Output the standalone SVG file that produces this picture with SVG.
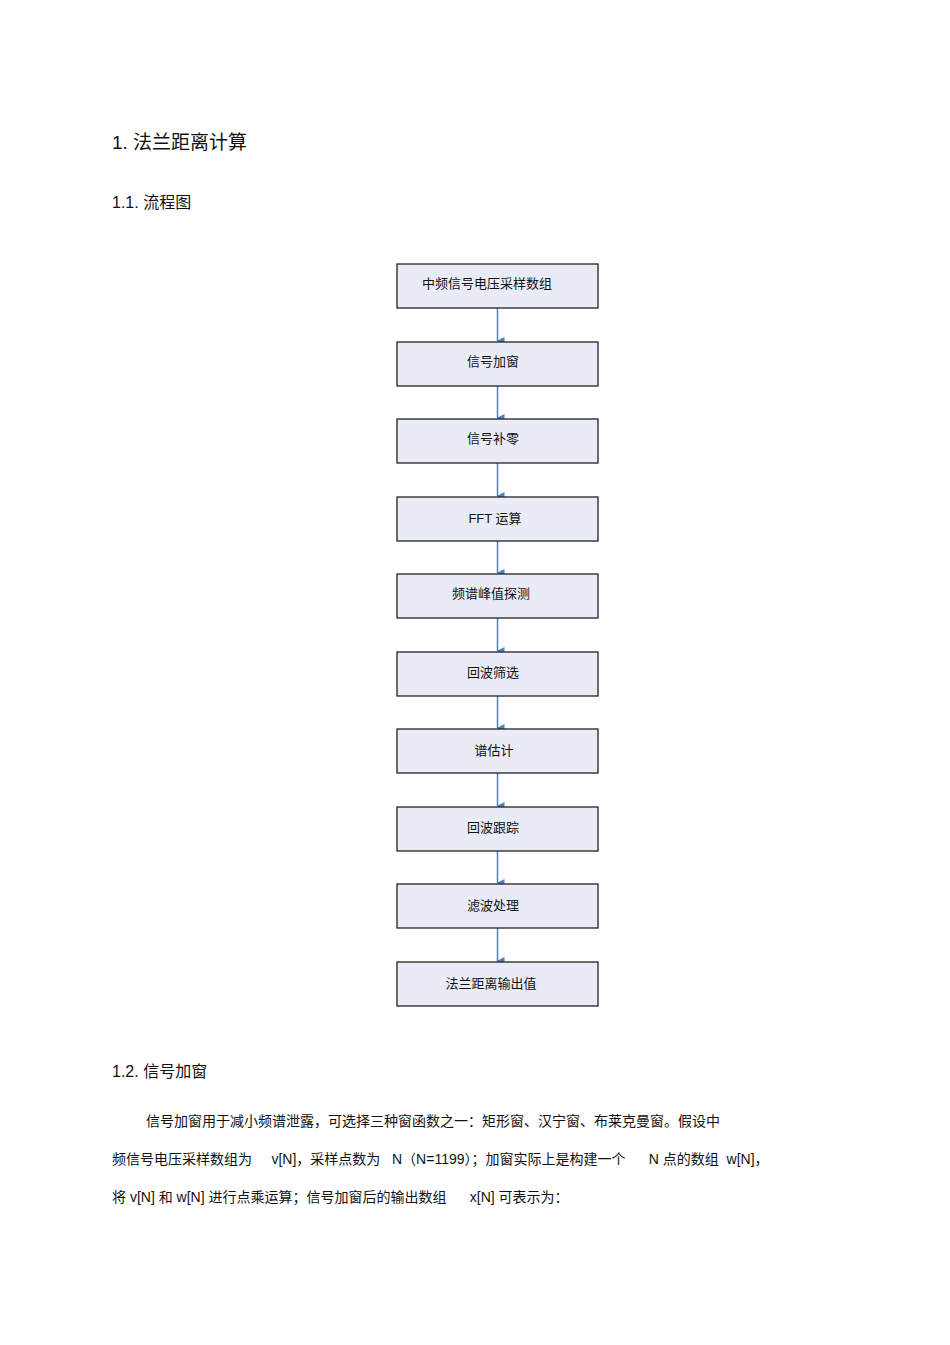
<svg xmlns="http://www.w3.org/2000/svg" width="950" height="1345" viewBox="0 0 950 1345">
<style>
.b{fill:#E9ECF7;stroke:#222;stroke-width:1.3}
.t{font-family:"Liberation Sans","Noto Sans CJK SC",sans-serif;font-size:13px;fill:#111;text-anchor:middle}
.p{font-family:"Liberation Sans","Noto Sans CJK SC",sans-serif;font-size:14px;fill:#111}
.h{font-family:"Liberation Sans","Noto Sans CJK SC",sans-serif;fill:#111}
.c{stroke:#4F81BD;stroke-width:1.5;fill:none}
</style>
<defs><marker id="a" markerWidth="8" markerHeight="8" refX="4" refY="7" orient="auto" markerUnits="userSpaceOnUse" viewBox="0 0 8 8"><path d="M0,0 L8,0 L4,8 z" fill="#4F81BD"/></marker></defs>
<rect width="950" height="1345" fill="#fff"/>
<text class="h" x="112" y="149" font-size="19">1.  法兰距离计算</text>
<text class="h" x="112" y="208" font-size="16">1.1.  流程图</text>
<g id="connectors">
<line class="c" x1="497.5" y1="308" x2="497.5" y2="341" marker-end="url(#a)"/>
<line class="c" x1="497.5" y1="386" x2="497.5" y2="418" marker-end="url(#a)"/>
<line class="c" x1="497.5" y1="463" x2="497.5" y2="496" marker-end="url(#a)"/>
<line class="c" x1="497.5" y1="541" x2="497.5" y2="573" marker-end="url(#a)"/>
<line class="c" x1="497.5" y1="618" x2="497.5" y2="651" marker-end="url(#a)"/>
<line class="c" x1="497.5" y1="696" x2="497.5" y2="728" marker-end="url(#a)"/>
<line class="c" x1="497.5" y1="773" x2="497.5" y2="806" marker-end="url(#a)"/>
<line class="c" x1="497.5" y1="851" x2="497.5" y2="883" marker-end="url(#a)"/>
<line class="c" x1="497.5" y1="928" x2="497.5" y2="961" marker-end="url(#a)"/>
</g>
<g id="n1"><rect class="b" x="397" y="264" width="201" height="44"/><text class="t" x="487" y="288">中频信号电压采样数组</text></g>
<g id="n2"><rect class="b" x="397" y="342" width="201" height="44"/><text class="t" x="493" y="366">信号加窗</text></g>
<g id="n3"><rect class="b" x="397" y="419" width="201" height="44"/><text class="t" x="493" y="443">信号补零</text></g>
<g id="n4"><rect class="b" x="397" y="497" width="201" height="44"/><text class="t" x="495" y="523">FFT 运算</text></g>
<g id="n5"><rect class="b" x="397" y="574" width="201" height="44"/><text class="t" x="491" y="598">频谱峰值探测</text></g>
<g id="n6"><rect class="b" x="397" y="652" width="201" height="44"/><text class="t" x="493" y="677">回波筛选</text></g>
<g id="n7"><rect class="b" x="397" y="729" width="201" height="44"/><text class="t" x="494" y="755">谱估计</text></g>
<g id="n8"><rect class="b" x="397" y="807" width="201" height="44"/><text class="t" x="493" y="832">回波跟踪</text></g>
<g id="n9"><rect class="b" x="397" y="884" width="201" height="44"/><text class="t" x="493" y="910">滤波处理</text></g>
<g id="n10"><rect class="b" x="397" y="962" width="201" height="44"/><text class="t" x="491" y="988">法兰距离输出值</text></g>
<text class="h" x="112" y="1077" font-size="16">1.2.  信号加窗</text>
<text class="p" x="146" y="1126">信号加窗用于减小频谱泄露，可选择三种窗函数之一：矩形窗、汉宁窗、布莱克曼窗。假设中</text>
<text class="p" x="112" y="1164" xml:space="preserve">频信号电压采样数组为     v[N]，采样点数为   N（N=1199）；加窗实际上是构建一个      N 点的数组  w[N]，</text>
<text class="p" x="112" y="1202" xml:space="preserve">将 v[N] 和 w[N] 进行点乘运算；信号加窗后的输出数组      x[N] 可表示为：</text>
</svg>
